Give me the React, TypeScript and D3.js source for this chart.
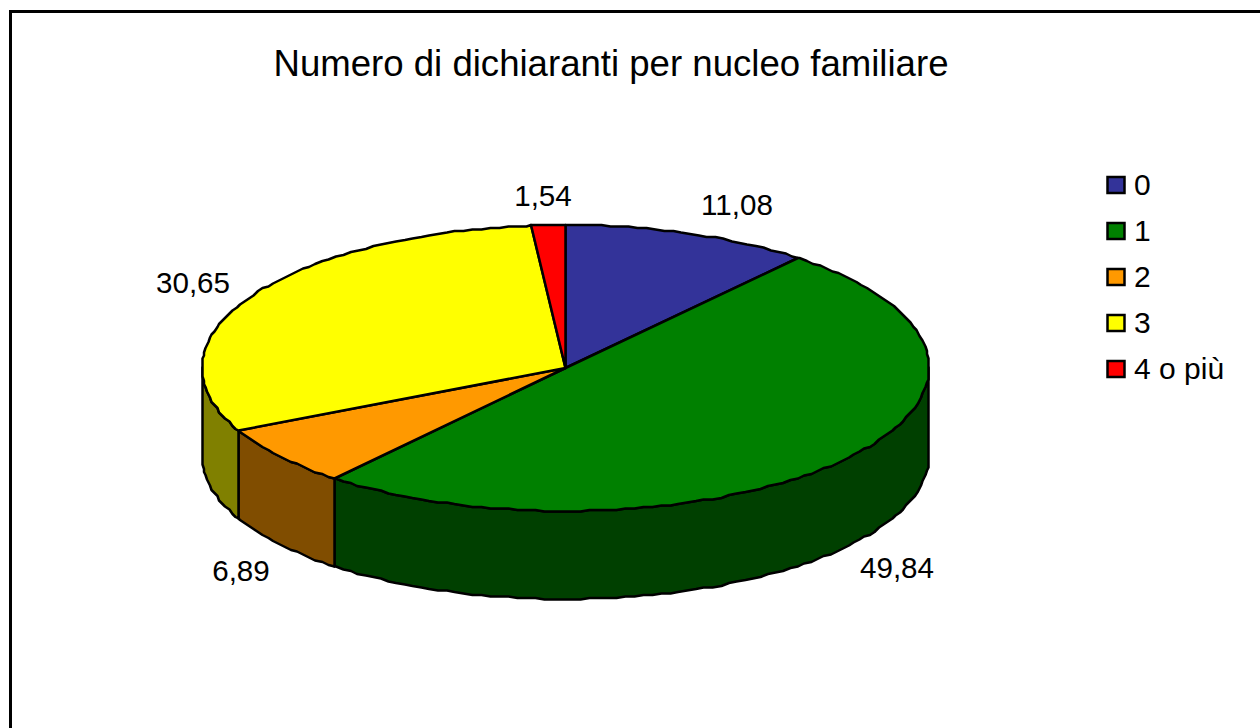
import React from "react";
import * as d3 from "d3";

const categories = ["0", "1", "2", "3", "4 o più"];
const values = [11.08, 49.84, 6.89, 30.65, 1.54];
const topColors = ["#333399", "#008000", "#FF9900", "#FFFF00", "#FF0000"];
const sideColors = ["#1a1a4d", "#004000", "#804d00", "#808000", "#800000"];
const valueLabels = ["11,08", "49,84", "6,89", "30,65", "1,54"];
const labelAnchors: [number, number][] = [[737, 215], [897, 578], [241, 581], [193, 293], [543, 206]];
const titleText = "Numero di dichiaranti per nucleo familiare";

const FONT = "'Liberation Sans', Arial, sans-serif";
const W = 1260, H = 728;
const cx = 565.5, cy = 368, rx = 363.5, ry = 143, depth = 88;

const pie = d3.pie<number>().sort(null).startAngle(0).endAngle(2 * Math.PI);
const arcs = pie(values);

// The rim is a fine polygon snapped to a small grid, which gives it its slightly rough look.
const GRID = 1.5;
const STEP = 0.025;
const snap = (v: number) => Math.round(v / GRID) * GRID;
const pt = (a: number, dy = 0): [number, number] => [snap(cx + rx * Math.sin(a)), snap(cy - ry * Math.cos(a)) + dy];
const sample = (a0: number, a1: number, dy = 0): [number, number][] => {
  const first = Math.ceil(a0 / STEP), last = Math.floor(a1 / STEP);
  const inner = d3.range(first, last + 1).map((k) => pt(k * STEP, dy));
  return [pt(a0, dy), ...inner, pt(a1, dy)];
};
const line = d3.line();

// front-facing wall runs between angle PI/2 and 3PI/2
const wallRange = (a0: number, a1: number): [number, number] | null => {
  const s = Math.max(a0, Math.PI / 2), e = Math.min(a1, (3 * Math.PI) / 2);
  return s < e ? [s, e] : null;
};

const legendY = d3.scalePoint<string>().domain(categories).range([185, 369]);

export default function App() {
  return (
    <svg width={W} height={H} viewBox={`0 0 ${W} ${H}`} style={{ position: "absolute", left: 0, top: 0, background: "#fff" }}>
      <path d={`M10.5,${H} V11.5 H${W}`} fill="none" stroke="#000" strokeWidth={3} />
      <text x={611} y={76} textAnchor="middle" fontFamily={FONT} fontSize={36.6} fill="#000">{titleText}</text>

      {arcs.map((d, i) => {
        const r = wallRange(d.startAngle, d.endAngle);
        if (!r) return null;
        const pts = [...sample(r[0], r[1]), ...sample(r[0], r[1], depth).reverse()];
        return <path key={i} d={line(pts) + "Z"} fill={sideColors[i]} stroke="#000" strokeWidth={2.5} strokeLinejoin="round" />;
      })}
      {arcs.map((d, i) => {
        const pts: [number, number][] = [[cx, cy], ...sample(d.startAngle, d.endAngle)];
        return <path key={i} d={line(pts) + "Z"} fill={topColors[i]} stroke="#000" strokeWidth={2.5} strokeLinejoin="round" />;
      })}

      {valueLabels.map((t, i) => (
        <text key={i} x={labelAnchors[i][0]} y={labelAnchors[i][1]} textAnchor="middle" fontFamily={FONT} fontSize={29.6} fill="#000">{t}</text>
      ))}

      {categories.map((c, i) => {
        const y = legendY(c)!;
        return (
          <g key={c}>
            <rect x={1107.5} y={y - 8} width={17} height={16} fill={topColors[i]} stroke="#000" strokeWidth={2.5} />
            <text x={1134} y={y + 10} fontFamily={FONT} fontSize={30} fill="#000">{c}</text>
          </g>
        );
      })}
    </svg>
  );
}
